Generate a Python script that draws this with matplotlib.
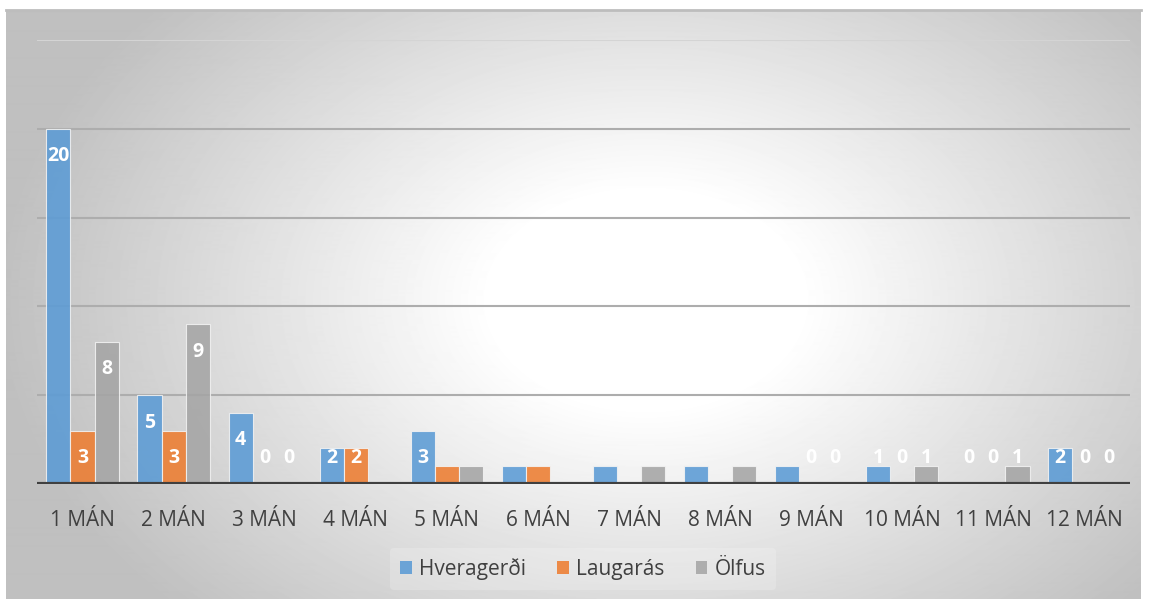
import numpy as np
import matplotlib.pyplot as plt
from matplotlib.patches import Patch

# Gögn
manudir = ['1 MÁN', '2 MÁN', '3 MÁN', '4 MÁN', '5 MÁN', '6 MÁN',
           '7 MÁN', '8 MÁN', '9 MÁN', '10 MÁN', '11 MÁN', '12 MÁN']
hveragerdi = [20, 5, 4, 2, 3, 1, 1, 1, 1, 1, 0, 2]
laugaras = [3, 3, 0, 2, 1, 1, 0, 0, 0, 0, 0, 0]
olfus = [8, 9, 0, 0, 1, 0, 1, 1, 0, 1, 1, 0]

# gildismerki sem sjást á myndinni (None = ekkert merki)
merki_h = [20, 5, 4, 2, 3, None, None, None, None, 1, 0, 2]
merki_l = [3, 3, 0, 2, None, None, None, None, 0, 0, 0, 0]
merki_o = [8, 9, 0, None, None, None, None, None, 0, 1, 1, 0]

plt.rcParams['font.family'] = ['Open Sans', 'DejaVu Sans']

W, H = 1151, 599
fig = plt.figure(figsize=(W / 100, H / 100), dpi=100)
fig.patch.set_facecolor('white')

# bakgrunnur með geislalaga litbrigðum
bg = fig.add_axes([6 / W, 0, (1141 - 6) / W, (599 - 10) / H])
yy, xx = np.mgrid[0:590, 0:1135]
r = np.sqrt(((xx - 640) / 620.0) ** 2 + ((yy - 290) / 430.0) ** 2)
t = np.clip((r - 0.25) / 0.8, 0, 1)
img = 1 - t * 0.25
bg.imshow(img, cmap='gray', vmin=0, vmax=1, aspect='auto', interpolation='bilinear')
bg.set_xticks([])
bg.set_yticks([])
for s in bg.spines.values():
    s.set_visible(False)
bg.spines['top'].set_visible(True)
bg.spines['top'].set_color('#bdbdbd')
bg.spines['top'].set_linewidth(2)

ax = fig.add_axes([37 / W, (599 - 484) / H, (1130 - 37) / W, (484 - 40) / H])
ax.set_facecolor('none')

x = np.arange(len(manudir))
w = 0.265
raðir = [
    ('Hveragerði', hveragerdi, merki_h, '#5B9BD5', -w),
    ('Laugarás', laugaras, merki_l, '#ED7D31', 0),
    ('Ölfus', olfus, merki_o, '#A5A5A5', w),
]

for nafn, gildi, merki, litur, dx in raðir:
    ax.bar(x + dx, gildi, width=w, color=litur, alpha=0.88,
           edgecolor='#f2f2f2', linewidth=0.8, zorder=3)
    for i, m in enumerate(merki):
        if m is None:
            continue
        ypos = max(gildi[i] - 1.55, 1.46)
        ax.text(x[i] + dx, ypos, str(m), ha='center', va='center',
                color='white', fontsize=14, fontweight='bold', zorder=5)

ax.set_xlim(-0.5, len(manudir) - 0.5)
ax.set_ylim(0, 25)
ax.set_yticks([5, 10, 15, 20])
ax.yaxis.grid(True, color='#adadad', linewidth=1.5, zorder=4)
ax.axhline(25, color='#d4d4d4', linewidth=1.5, zorder=1)
ax.axhline(0, color='#404040', linewidth=3, zorder=6)
ax.set_yticklabels([])
ax.tick_params(axis='y', length=0)
ax.set_xticks(x)
ax.set_xticklabels(manudir, fontsize=15, color='#404040')
ax.tick_params(axis='x', length=0, pad=19)
for s in ax.spines.values():
    s.set_visible(False)

handles = [Patch(facecolor=c, alpha=0.88, edgecolor='none', label=n) for n, _, _, c, _ in raðir]
leg = fig.legend(handles=handles, loc='center', ncol=3,
                 bbox_to_anchor=(583 / W, (599 - 569) / H),
                 frameon=True, fontsize=15, handlelength=0.55, handleheight=0.55,
                 handletextpad=0.35, columnspacing=1.5, borderpad=0.5)
leg.get_frame().set_facecolor('white')
leg.get_frame().set_alpha(0.2)
leg.get_frame().set_edgecolor('none')
for txt in leg.get_texts():
    txt.set_color('#404040')

fig.savefig('out.png', dpi=100)
